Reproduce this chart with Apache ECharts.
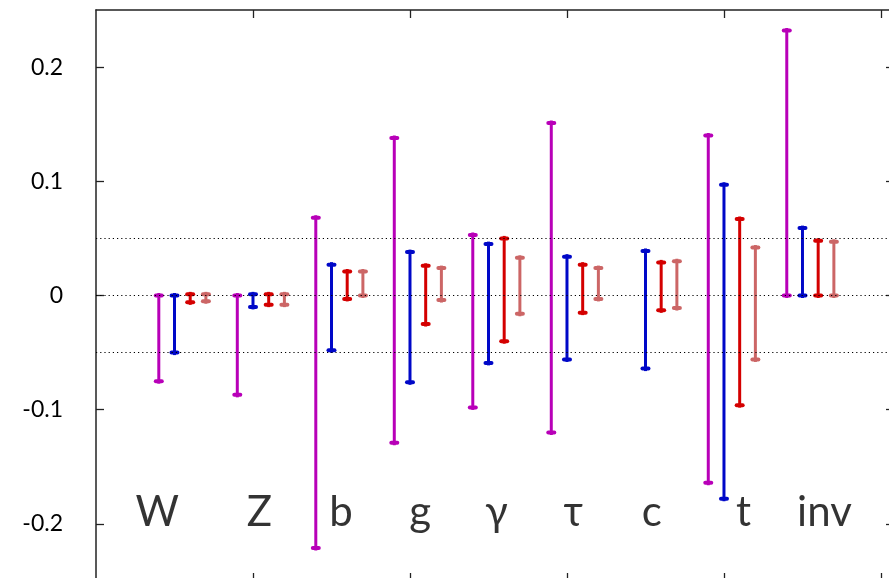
<!DOCTYPE html>
<html>
<head>
<meta charset="utf-8">
<script src="https://cdn.jsdelivr.net/npm/echarts@6/dist/echarts.min.js"></script>
<style>html,body{margin:0;padding:0;background:#fff}#c{width:889px;height:578px}</style>
</head>
<body>
<div id="c"></div>
<script>
// ---- data ----
const categories = ['W', 'Z', 'b', 'g', 'γ', 'τ', 'c', 't', 'inv'];
const yTicks = [-0.2, -0.1, 0, 0.1, 0.2];
const xTicks = [2, 4, 6, 8, 10];
const refLines = [0.05, 0, -0.05];
// [low, high] for each category; null = not shown
const purple = [[-0.075, 0], [-0.087, 0], [-0.221, 0.068], [-0.129, 0.138], [-0.098, 0.053], [-0.120, 0.151], null, [-0.164, 0.140], [0, 0.232]];
const blue   = [[-0.050, 0], [-0.010, 0.001], [-0.048, 0.027], [-0.076, 0.038], [-0.059, 0.045], [-0.056, 0.034], [-0.064, 0.039], [-0.178, 0.097], [0, 0.059]];
const red    = [[-0.006, 0.001], [-0.008, 0.001], [-0.003, 0.021], [-0.025, 0.026], [-0.040, 0.050], [-0.015, 0.027], [-0.013, 0.029], [-0.096, 0.067], [0, 0.048]];
const pink   = [[-0.005, 0.001], [-0.008, 0.001], [0, 0.021], [-0.004, 0.024], [-0.016, 0.033], [-0.003, 0.024], [-0.011, 0.030], [-0.056, 0.042], [0, 0.047]];

// ---- layout ----
const labelShift = [-0.22, 0.08, 0.12, 0.13, 0.10, 0.08, 0.08, 0.25, 0.28];
const labelY = -0.19;

function errSeries(name, vals, color, offset) {
  const data = [];
  vals.forEach((v, i) => { if (v) data.push([i + 1, v[0], v[1]]); });
  return {
    type: 'custom', name, z: 3,
    data,
    encode: { x: 0, y: [1, 2] },
    renderItem(params, api) {
      const x = api.value(0) + offset;
      const lo = api.coord([x, api.value(1)]);
      const hi = api.coord([x, api.value(2)]);
      const st = { stroke: color, lineWidth: 3, lineCap: 'butt' };
      const cap = { stroke: color, lineWidth: 4, lineCap: 'round' };
      return {
        type: 'group',
        children: [
          { type: 'line', shape: { x1: lo[0], y1: lo[1] + 2.5, x2: hi[0], y2: hi[1] - 2.5 }, style: st },
          { type: 'line', shape: { x1: lo[0] - 3, y1: lo[1], x2: lo[0] + 3, y2: lo[1] }, style: cap },
          { type: 'line', shape: { x1: hi[0] - 3, y1: hi[1], x2: hi[0] + 3, y2: hi[1] }, style: cap }
        ]
      };
    }
  };
}

const axisLine = { show: true, onZero: false, lineStyle: { color: '#222', width: 1.5 } };
const tickStyle = { lineStyle: { color: '#222', width: 1.3 } };

const option = {
  backgroundColor: '#fff',
  animation: false,
  grid: { left: 96, top: 10, width: 798, height: 571, outerBoundsMode: 'none', containLabel: false },
  xAxis: [
    { type: 'value', position: 'bottom', min: 0, max: 10.166, axisLine,
      axisTick: { show: true, inside: true, length: 8, customValues: xTicks, ...tickStyle },
      axisLabel: { show: false }, splitLine: { show: false } },
    { type: 'value', position: 'top', min: 0, max: 10.166, axisLine,
      axisTick: { show: true, inside: true, length: 8, customValues: xTicks, ...tickStyle },
      axisLabel: { show: false }, splitLine: { show: false } }
  ],
  yAxis: [
    { type: 'value', position: 'left', min: -0.25, max: 0.25, axisLine,
      axisTick: { show: true, inside: true, length: 8, customValues: yTicks, ...tickStyle },
      axisLabel: { show: true, customValues: yTicks, margin: 33, fontSize: 23, color: '#000',
        fontFamily: 'Lato, "Open Sans", sans-serif', formatter: v => String(Math.round(v * 10) / 10) },
      splitLine: { show: false } },
    { type: 'value', position: 'right', min: -0.25, max: 0.25, axisLine,
      axisTick: { show: true, inside: true, length: 8, customValues: yTicks, ...tickStyle },
      axisLabel: { show: false }, splitLine: { show: false } }
  ],
  series: [
    { type: 'line', data: [], z: 1, silent: true,
      markLine: { silent: true, symbol: 'none', animation: false, label: { show: false },
        lineStyle: { color: '#000', width: 1.2, type: [1.2, 3] },
        data: refLines.map(v => ({ yAxis: v })) } },
    errSeries('purple', purple, '#b800b8', -0.2),
    errSeries('blue', blue, '#0008c8', 0),
    errSeries('red', red, '#d40000', 0.2),
    errSeries('pink', pink, '#cc6666', 0.4),
    { type: 'scatter', symbolSize: 0, z: 4, silent: true,
      data: categories.map((c, i) => ({ value: [i + 1 + labelShift[i], labelY], name: c })),
      label: { show: true, position: 'inside', formatter: p => p.name, color: '#000',
        fontSize: 42, fontFamily: 'Lato, "Open Sans", sans-serif', align: 'center', verticalAlign: 'middle' } }
  ]
};
const chart = echarts.init(document.getElementById('c'), null, { renderer: 'canvas' });
chart.setOption(option);
</script>
</body>
</html>
